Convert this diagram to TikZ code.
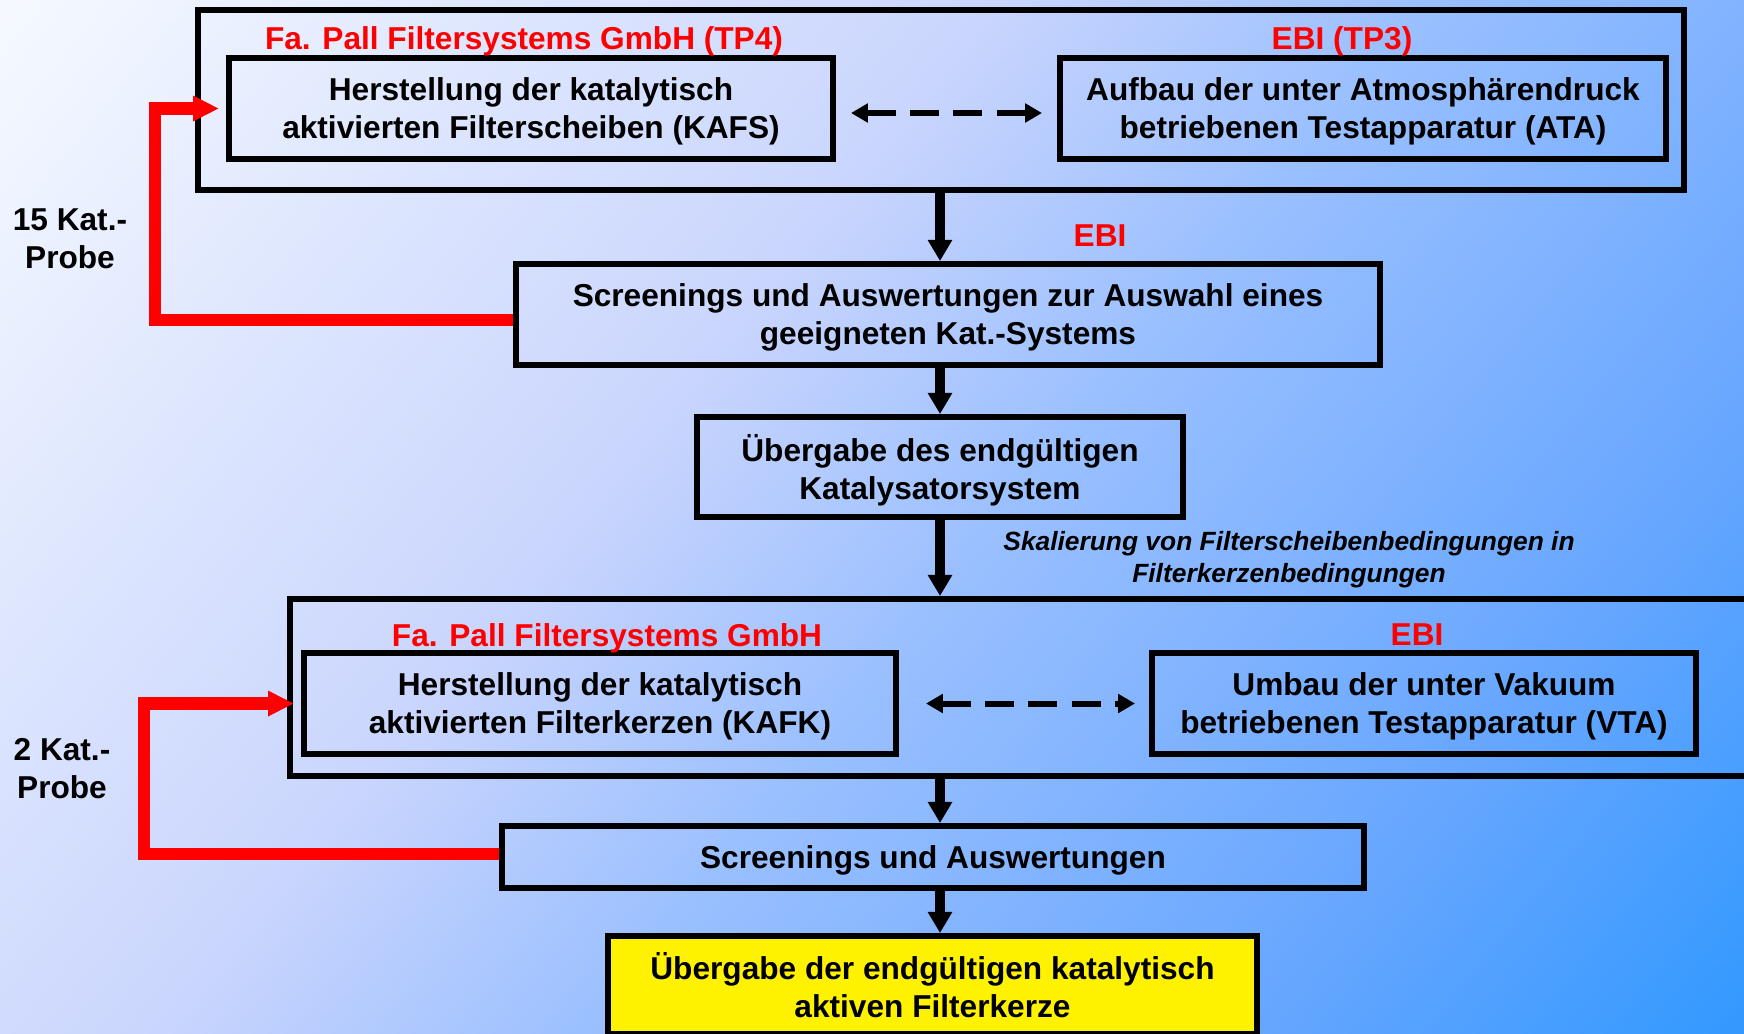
\documentclass[tikz,border=0pt]{standalone}
\usepackage{fontspec}
\setmainfont{Liberation Sans}
\usepackage{tikz}
\usetikzlibrary{shapes, positioning, arrows.meta}

\definecolor{bgA}{RGB}{245,249,255}
\definecolor{bgB}{RGB}{201,213,253}
\definecolor{bgC}{RGB}{153,191,255}
\definecolor{bgD}{RGB}{102,166,255}
\definecolor{bgE}{RGB}{51,153,255}
\pgfdeclarehorizontalshading{bgfade}{100bp}{color(0bp)=(bgA); color(15bp)=(bgA); color(42bp)=(bgB); color(54bp)=(bgC); color(72bp)=(bgD); color(85bp)=(bgE); color(100bp)=(bgE)}

\begin{document}
\begin{tikzpicture}[
        box/.style={rectangle, draw, line width=1.7pt, align=center, inner sep=0pt, text depth=0pt, font=\fontsize{9}{10.8}\selectfont\bfseries},
        group/.style={rectangle, draw, line width=1.7pt, inner sep=0pt},
        who/.style={anchor=base, text=red, font=\fontsize{9}{10.8}\selectfont\bfseries},
        count/.style={align=center, inner sep=0pt, font=\fontsize{9}{10.8}\selectfont\bfseries},
        flow/.style={line width=2.85pt, -{Triangle[width=6.6pt, length=6pt]}},
        swap/.style={line width=1.7pt, dash pattern=on 8.3pt off 4pt, {Triangle[width=5.2pt, length=4.8pt]}-{Triangle[width=5.2pt, length=4.8pt]}},
        loopback/.style={draw=red, line width=3.6pt, -{Triangle[width=6.8pt, length=7.4pt]}, shorten >=0.7mm}
    ]
        \path[use as bounding box, clip] (0, 0) rectangle (17.44, -10.33);
        \shade[shading=bgfade, shading angle=-39] (0, 0) rectangle (17.44, -10.33);

        \node[group, minimum width=14.86cm, minimum height=1.80cm] (top) at (9.41, -1.00) {};
        \node[box, minimum width=6.04cm, minimum height=1.01cm] (kafs) at (5.31, -1.085) {Herstellung der katalytisch\\aktivierten Filterscheiben (KAFS)};
        \node[box, minimum width=6.06cm, minimum height=1.01cm] (ata) at (13.63, -1.085) {Aufbau der unter Atmosphärendruck\\betriebenen Testapparatur (ATA)};
        \node[who] (pall1) at (5.24, -0.49) {Fa. Pall Filtersystems GmbH (TP4)};
        \node[who] (ebi1) at (13.42, -0.49) {EBI (TP3)};

        \node[box, minimum width=8.64cm, minimum height=1.01cm] (scr1) at (9.48, -3.145) {Screenings und Auswertungen zur Auswahl eines\\geeigneten Kat.-Systems};
        \node[who] (ebi2) at (11.00, -2.46) {EBI};
        \node[box, minimum width=4.86cm, minimum height=1.00cm] (ueb1) at (9.40, -4.67) {Übergabe des endgültigen\\Katalysatorsystem};
        \node[align=center, inner sep=0pt, font=\fontsize{7.5}{9.1}\selectfont\bfseries\itshape] (scale) at (12.89, -5.60) {Skalierung von Filterscheibenbedingungen in\\Filterkerzenbedingungen};

        \node[group, minimum width=15.10cm, minimum height=1.77cm] (bottom) at (10.45, -6.875) {};
        \node[box, minimum width=5.92cm, minimum height=1.01cm] (kafk) at (6.00, -7.035) {Herstellung der katalytisch\\aktivierten Filterkerzen (KAFK)};
        \node[box, minimum width=5.44cm, minimum height=1.01cm] (vta) at (14.24, -7.035) {Umbau der unter Vakuum\\betriebenen Testapparatur (VTA)};
        \node[who] (pall2) at (6.07, -6.46) {Fa. Pall Filtersystems GmbH};
        \node[who] (ebi3) at (14.17, -6.45) {EBI};

        \node[box, minimum width=8.62cm, minimum height=0.62cm] (scr2) at (9.33, -8.57) {Screenings und Auswertungen};
        \node[box, fill=yellow, minimum width=6.49cm, minimum height=0.98cm] (final) at (9.325, -9.85) {Übergabe der endgültigen katalytisch\\aktiven Filterkerze};

        \node[count] (n15) at (0.70, -2.39) {15 Kat.-\\Probe};
        \node[count] (n2) at (0.62, -7.685) {2 Kat.-\\Probe};

        \coordinate (spine) at (9.40, 0);
        \coordinate (ret1) at (1.55, -2.00);
        \coordinate (ret2) at (1.44, -7.80);

        \draw[swap] ([xshift=1.5mm]kafs.east |- 0, -1.13) to ([xshift=-1.5mm]ata.west |- 0, -1.13);
        \draw[swap] ([xshift=2.7mm]kafk.east) to ([xshift=-1.4mm]vta.west);

        \draw[flow] (top.south -| spine) to (scr1.north -| spine);
        \draw[flow] (scr1.south -| spine) to (ueb1.north -| spine);
        \draw[flow] (ueb1.south -| spine) to (bottom.north -| spine);
        \draw[flow] (bottom.south -| spine) to (scr2.north -| spine);
        \draw[flow] (scr2.south -| spine) to (final.north -| spine);

        \draw[loopback] ([yshift=-0.55mm]scr1.west) -| (ret1) |- (kafs.west);
        \draw[loopback] ([yshift=0.3mm]scr2.west) -| (ret2) |- (kafk.west);
    \end{tikzpicture}
\end{document}
